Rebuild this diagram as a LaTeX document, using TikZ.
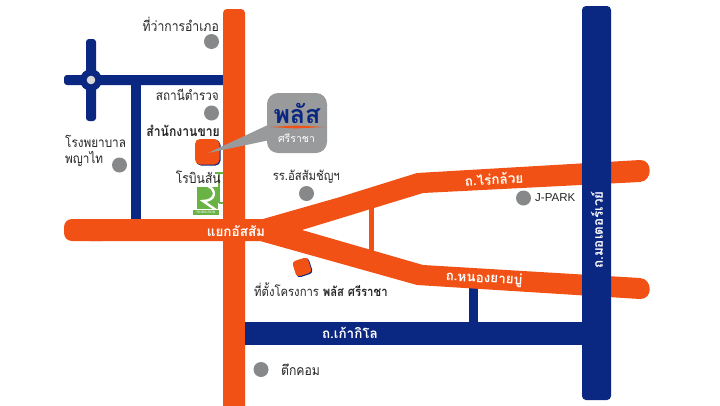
\documentclass[tikz,border=0pt]{standalone}
\usepackage{fontspec}
\setmainfont[Script=Thai]{Loma}
\newfontfamily\thainarrow[Script=Thai,FakeStretch=0.87]{Loma}
\newfontfamily\latinfont{Liberation Sans}
\definecolor{roadorange}{HTML}{F15114}
\definecolor{roadblue}{HTML}{0A2781}
\definecolor{poigray}{HTML}{87888A}
\definecolor{robgreen}{HTML}{69B244}
\tikzset{
  x=1pt,y=-1pt,
  orangeroad/.style={fill=roadorange,draw=none},
  bluefill/.style={fill=roadblue,draw=none},
  poi/.style={circle,fill=poigray,draw=none,minimum size=15pt,inner sep=0pt},
  label/.style={font=\thainarrow\fontsize{14}{14}\selectfont,inner sep=0pt,text=black!85},
  roadlabel/.style={font=\bfseries\fontsize{13.5}{13.5}\selectfont,inner sep=0pt,text=white},
}
\begin{document}
\begin{tikzpicture}
\useasboundingbox (0,0) rectangle (720,405);
\fill[white] (0,0) rectangle (720,405);
% blue minor roads
\fill[bluefill,rounded corners=3pt] (64,75) rectangle (230,85);
\fill[bluefill,rounded corners=3pt] (86,39) rectangle (96,121);
\fill[bluefill] (131,80) rectangle (141,225);
\fill[bluefill] (468.5,285) rectangle (477.5,330);
\fill[bluefill] (91,80) circle (11);
\fill[black!15] (91,80) circle (4.3);
% robinson logo
\draw[robgreen,line width=1.2pt] (215,173) -- (226,173) (219,203) -- (226,203) (219,173) -- (219,203);
\fill[robgreen] (197,187) rectangle (218,209);
\draw[white,line width=2.4pt] (208,186) .. controls (217,190) and (216,201) .. (203,201) -- (216,210);
\fill[robgreen] (193,209.5) rectangle (219,215);
\node[font=\fontsize{3.5}{3.5}\selectfont\latinfont,text=white,inner sep=0pt] (robtext) at (206,212.3) {ROBINSON};
% orange roads
\fill[orangeroad,rounded corners=8pt] (64,219) rectangle (110,241);
\fill[orangeroad] (90,219) -- (263,219) -- (340,197) -- (417,173) -- (640,160)
  .. controls (653,159.5) and (653,181) .. (640,182)
  -- (423,193) -- (302,230) -- (423,265) -- (640,278)
  .. controls (653,279) and (653,299.5) .. (640,299)
  -- (417,285) -- (260,241) -- (90,241) -- cycle;
\fill[orangeroad,rounded corners=4pt] (223,9) -- (245,9) -- (245,420) -- (223,420) -- cycle;
\fill[orangeroad] (368.5,205) rectangle (373.5,252);
% blue main roads
\fill[bluefill] (245,322) rectangle (600,345);
\fill[bluefill,rounded corners=4pt] (582,6) rectangle (611,400);
% marker squares
\fill[roadblue,rounded corners=5pt] (196,140) rectangle (220.5,165.5);
\fill[orangeroad,rounded corners=5pt] (195,139) rectangle (219.5,164.5);
\fill[roadblue,rounded corners=3.5pt,rotate around={18:(302.5,267.5)}] (294.5,259.5) rectangle (311,276);
\fill[orangeroad,rounded corners=3.5pt,rotate around={18:(302,267)}] (294,259) rectangle (310,275);
% callout
\fill[poigray!85!white] (208,153) -- (270,124) -- (270,140) -- cycle;
\fill[poigray!85!white,rounded corners=11pt] (267,93) rectangle (327,153);
\node[font=\bfseries\fontsize{25}{25}\selectfont,text=roadblue,inner sep=0pt] (plus) at (297,113.5) {พลัส};
\fill[roadorange] (269,127) -- (296,125.6) -- (325,127) -- (296,128.4) -- cycle;
\node[font=\fontsize{10.5}{10.5}\selectfont,text=white,inner sep=0pt] (sri) at (296.5,138) {ศรีราชา};
% POIs
\node[poi] (p1) at (211.5,41.5) {};
\node[poi] (p2) at (211.5,113) {};
\node[poi] (p3) at (119.5,165) {};
\node[poi] (p4) at (306.5,193.5) {};
\node[poi] (p5) at (523.5,198) {};
\node[poi] (p6) at (261,369.5) {};
% labels
\node[label,anchor=east] (l1) at (219,24) {ที่ว่าการอำเภอ};
\node[label,anchor=east,font=\thainarrow\fontsize{13.5}{13.5}\selectfont] (l2) at (219,95) {สถานีตำรวจ};
\node[label,anchor=east,font=\thainarrow\bfseries\fontsize{14}{14}\selectfont] (l3) at (220,131) {สำนักงานขาย};
\node[label,anchor=west,align=left,font=\thainarrow\fontsize{13.5}{13.5}\selectfont] (l4) at (65,151) {โรงพยาบาล\\[2pt]พญาไท};
\node[label,anchor=east] (l5) at (221,177) {โรบินสัน};
\node[label,anchor=east,font=\thainarrow\fontsize{13}{13}\selectfont] (l6) at (340,177) {รร.อัสสัมชัญฯ};
\node[label,anchor=west,font=\fontsize{11.5}{11.5}\selectfont\latinfont] (l7) at (535,198) {J-PARK};
\node[label,anchor=west,font=\thainarrow\fontsize{13}{13}\selectfont] (l8) at (254,290) {ที่ตั้งโครงการ \textbf{พลัส ศรีราชา}};
\node[label,anchor=west] (l9) at (281,370) {ตึกคอม};
\node[roadlabel] (r1) at (236,231) {แยกอัสสัม};
\node[roadlabel,rotate=3] (r2) at (494,179) {ถ.ไร่กล้วย};
\node[roadlabel,rotate=-3] (r3) at (484,279) {ถ.หนองยายบู่};
\node[roadlabel] (r4) at (350,333) {ถ.เก้ากิโล};
\node[roadlabel,rotate=90] (r5) at (597,230) {ถ.มอเตอร์เวย์};
\end{tikzpicture}
\end{document}
